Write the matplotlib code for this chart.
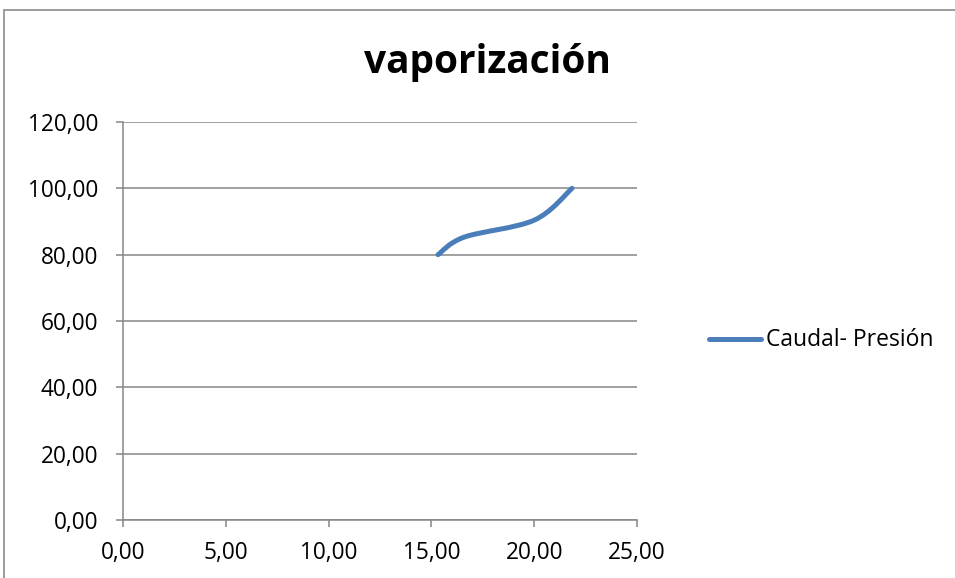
import matplotlib
matplotlib.use("Agg")
import matplotlib.pyplot as plt
from matplotlib.path import Path
from matplotlib.patches import PathPatch, Rectangle
from matplotlib.lines import Line2D
import numpy as np

caudal = [15.32, 16.6, 20.0, 21.84]
presion = [80.0, 85.3, 90.4, 100.0]
series_name = "Caudal- Presión"
title = "vaporización"
xticks = [0, 5, 10, 15, 20, 25]
yticks = [0, 20, 40, 60, 80, 100, 120]

plt.rcParams['font.family'] = ['Open Sans', 'DejaVu Sans']
fig = plt.figure(figsize=(9.55, 5.78), dpi=100)
W, H = 955, 578
ax = fig.add_axes([123 / W, 1 - 520 / H, (637 - 123) / W, (520 - 122) / H])

# Excel-style smoothed line (Catmull-Rom Bezier)
pts = np.column_stack([caudal, presion])
n = len(pts)
verts = [tuple(pts[0])]
codes = [Path.MOVETO]
for i in range(n - 1):
    p0 = pts[i - 1] if i > 0 else pts[i]
    p1 = pts[i]
    p2 = pts[i + 1]
    p3 = pts[i + 2] if i + 2 < n else pts[i + 1]
    c1 = p1 + (p2 - p0) / 6
    c2 = p2 - (p3 - p1) / 6
    verts += [tuple(c1), tuple(c2), tuple(p2)]
    codes += [Path.CURVE4] * 3
color = '#4A7EBB'
patch = PathPatch(Path(verts, codes), facecolor='none', edgecolor=color,
                  lw=3.6, capstyle='round', joinstyle='round', zorder=3)
ax.add_patch(patch)

ax.set_xlim(0, 25)
ax.set_ylim(0, 120)
ax.set_xticks(xticks)
ax.set_yticks(yticks)
fmt = lambda v: f"{v:.2f}".replace('.', ',')
ax.set_xticklabels([fmt(v) for v in xticks])
ax.set_yticklabels([fmt(v) for v in yticks])
grid_c = '#868686'
ax.grid(axis='y', color=grid_c, lw=1.1)
ax.set_axisbelow(True)
for s in ['top', 'right']:
    ax.spines[s].set_visible(False)
for s in ['left', 'bottom']:
    ax.spines[s].set_color(grid_c)
    ax.spines[s].set_linewidth(1.1)
ax.tick_params(axis='both', colors=grid_c, length=5, width=1.1, labelsize=16.3,
               labelcolor='black')
ax.tick_params(axis='y', pad=13)
ax.tick_params(axis='x', pad=10)

fig.text(487 / W, 1 - 62 / H, title, ha='center', va='center',
         fontsize=28, fontweight='bold')

# legend
fig.add_artist(Line2D([709 / W, 761 / W], [1 - 339 / H, 1 - 339 / H],
                      color=color, lw=3.6, solid_capstyle='round'))
fig.text(766 / W, 1 - 340 / H, series_name, ha='left', va='center', fontsize=16.5)

# chart border
fig.add_artist(Rectangle((4 / W, -0.1), 1.2, 1 - 10 / H + 0.1,
                         transform=fig.transFigure, fill=False,
                         edgecolor='#8c8c8c', lw=1.2))

fig.savefig('out.png', dpi=100)
